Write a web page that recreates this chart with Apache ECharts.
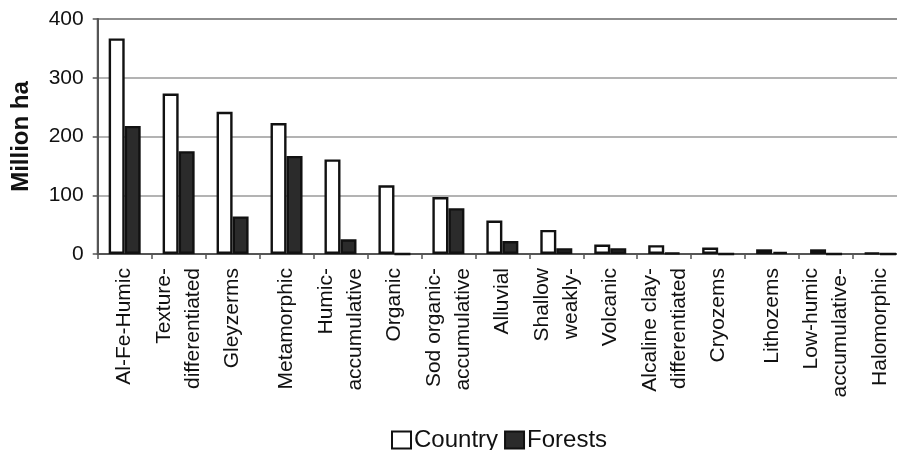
<!DOCTYPE html>
<html>
<head>
<meta charset="utf-8">
<script src="https://cdn.jsdelivr.net/npm/echarts@6/dist/echarts.min.js"></script>
<style>
  html, body { margin: 0; padding: 0; background: #fff; }
  #chart { width: 897px; height: 450px; }
</style>
</head>
<body>
<div id="chart"></div>
<script>
// Soil groups (area in million hectares)
const categories = [
  'Al-Fe-Humic', 'Texture-\ndifferentiated', 'Gleyzerms', 'Metamorphic',
  'Humic-\naccumulative', 'Organic', 'Sod organic-\naccumulative', 'Alluvial',
  'Shallow\nweakly-', 'Volcanic', 'Alcaline clay-\ndifferentiated', 'Cryozems',
  'Lithozems', 'Low-humic\naccumulative-', 'Halomorphic'
];
const countryValues = [367, 273, 242, 223, 161, 117, 97, 57, 41, 16, 15, 11, 8, 8, 2];
const forestValues  = [218, 175, 64, 167, 25, 0, 78, 22, 10, 10, 2, 0, 4, 0, 0];
const yTicks = { min: 0, max: 400, interval: 100 };

const FONT = '"Liberation Sans", Arial, sans-serif';
const chart = echarts.init(document.getElementById('chart'), null, { renderer: 'canvas' });

chart.setOption({
  animation: false,
  backgroundColor: '#fff',
  textStyle: { fontFamily: FONT, color: '#111' },
  grid: {
    left: 97.7, right: -10, top: 19, bottom: 196,
    show: true, borderColor: '#6e6e6e', borderWidth: 2,
    containLabel: false, outerBoundsMode: 'none'
  },
  legend: {
    left: 386, top: 423,
    icon: 'rect',
    itemWidth: 19, itemHeight: 17, itemGap: 6,
    textStyle: { fontFamily: FONT, fontSize: 24, color: '#111', padding: [0, 0, 0, -2] },
    data: ['Country', 'Forests']
  },
  xAxis: {
    type: 'category',
    data: categories,
    axisLine: { lineStyle: { color: '#555', width: 2 } },
    axisTick: { show: true, length: 5, inside: false, alignWithLabel: false, lineStyle: { color: '#555', width: 1.5 } },
    axisLabel: {
      interval: 0, rotate: 90, margin: 14,
      fontFamily: FONT, fontSize: 21, lineHeight: 29, color: '#111'
    },
    splitLine: { show: false }
  },
  yAxis: {
    type: 'value',
    min: yTicks.min, max: yTicks.max, interval: yTicks.interval,
    name: 'Million ha',
    nameLocation: 'middle',
    nameRotate: 90,
    nameGap: 64,
    nameTextStyle: { fontFamily: FONT, fontSize: 24, fontWeight: 'bold', color: '#111' },
    axisLine: { show: true, lineStyle: { color: '#555', width: 2 } },
    axisTick: { show: true, length: 5, lineStyle: { color: '#555', width: 1.5 } },
    axisLabel: { margin: 14, fontFamily: FONT, fontSize: 21, color: '#111' },
    splitLine: { show: true, lineStyle: { color: '#9a9a9a', width: 1.6 } }
  },
  series: [
    {
      name: 'Country',
      type: 'bar',
      data: countryValues,
      barWidth: 16,
      barGap: '0%',
      itemStyle: { color: '#ffffff', borderColor: '#111', borderWidth: 2.4 }
    },
    {
      name: 'Forests',
      type: 'bar',
      data: forestValues,
      barWidth: 16,
      itemStyle: { color: '#2b2b2b', borderColor: '#111', borderWidth: 2.4 }
    }
  ]
});
</script>
</body>
</html>
